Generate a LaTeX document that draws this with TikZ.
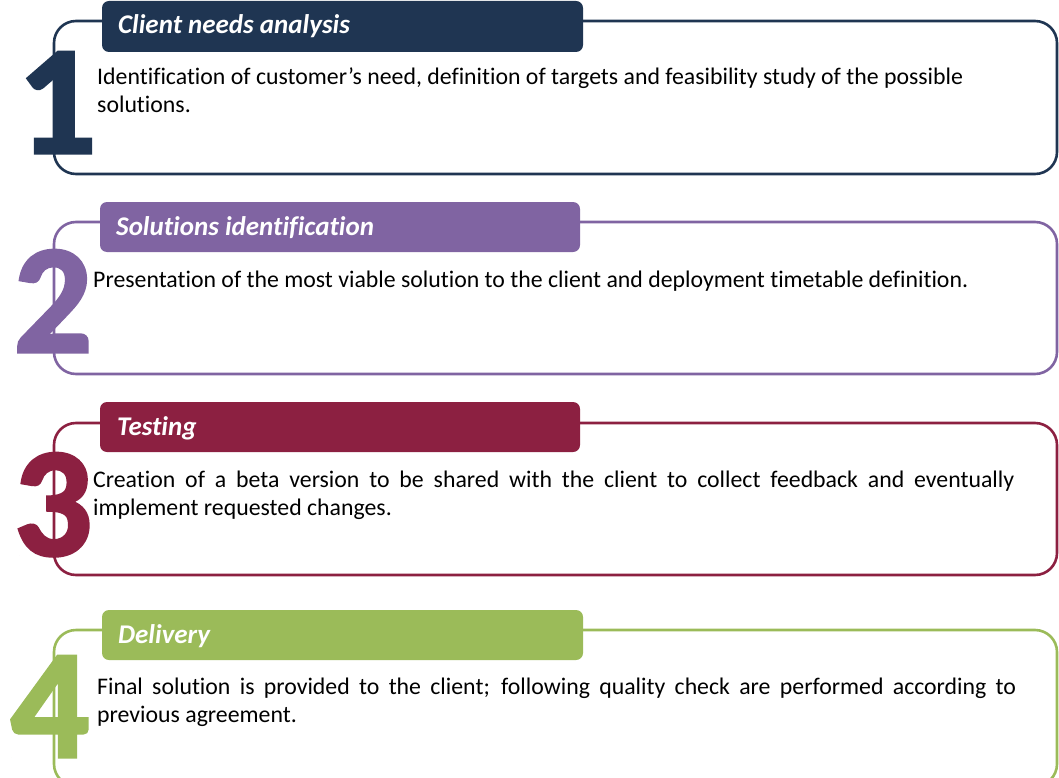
\documentclass[tikz,border=0pt]{standalone}
\usepackage{fontspec}
\setmainfont{Carlito}[Ligatures=NoCommon]
\newfontfamily\digitfont{Carlito}[FakeBold=2.2,BoldFeatures={FakeBold=2.2}]
\usepackage{ragged2e}
\setlength{\parindent}{0pt}
\setlength{\JustifyingParindent}{0pt}
\setlength{\RaggedRightParindent}{0pt}
\hyphenpenalty=10000
\exhyphenpenalty=10000
\definecolor{navy}{HTML}{1F3552}
\definecolor{lilac}{HTML}{8064A2}
\definecolor{wine}{HTML}{8C2041}
\definecolor{leaf}{HTML}{9BBB59}
\tikzset{
  frame/.style={draw=#1, line width=2.6pt, rounded corners=22pt, fill=white},
  tab/.style={fill=#1, rounded corners=7pt},
  tabtext/.style={anchor=base west, inner sep=0pt, text=white,
    font=\fontsize{27}{30}\selectfont\bfseries\itshape},
  bignum/.style={anchor=base, inner sep=0pt, text=#1,
    font=\digitfont\fontsize{155}{155}\selectfont\bfseries},
  body/.style={anchor=base west, inner sep=0pt,
    font=\fontsize{23.8}{28}\selectfont}
}
\begin{document}
\begin{tikzpicture}[x=1pt,y=-1pt]
\useasboundingbox (0,0) rectangle (1059,778);
\clip (0,0) rectangle (1059,778);

% step 1
\draw[frame=navy] (54,21) rectangle (1057,174);
\fill[tab=navy] (102,1) rectangle (583,52);
\node[tabtext] (h1) at (118,34) {Client needs analysis};
\node[bignum=navy] (n1) at (57,153) {1};
\node[body] (t1) at (97,85) {\parbox[t]{918pt}{\RaggedRight Identification of customer’s need, definition of targets and feasibility study of the possible solutions.}};

% step 2
\draw[frame=lilac] (54,222) rectangle (1057,374);
\fill[tab=lilac] (100,202) rectangle (580,252);
\node[tabtext] (h2) at (116,235) {Solutions identification};
\node[bignum=lilac] (n2) at (53,352) {2};
\node[body] (t2) at (93,287) {\parbox[t]{921pt}{\RaggedRight Presentation of the most viable solution to the client and deployment timetable definition.}};

% step 3
\draw[frame=wine] (54,423) rectangle (1057,575);
\fill[tab=wine] (100,402) rectangle (580,452);
\node[tabtext] (h3) at (117,435) {Testing};
\node[bignum=wine] (n3) at (53,555) {3};
\node[body] (t3) at (93,487) {\parbox[t]{921pt}{\justifying Creation of a beta version to be shared with the client to collect feedback and eventually implement requested changes.}};

% step 4
\draw[frame=leaf] (54,630) rectangle (1057,786);
\fill[tab=leaf] (102,610) rectangle (583,660);
\node[tabtext] (h4) at (118,643) {Delivery};
\node[bignum=leaf] (n4) at (50,757) {4};
\node[body] (t4) at (97,694) {\parbox[t]{919pt}{\justifying Final solution is provided to the client; following quality check are performed according to previous agreement.}};
\end{tikzpicture}
\end{document}
